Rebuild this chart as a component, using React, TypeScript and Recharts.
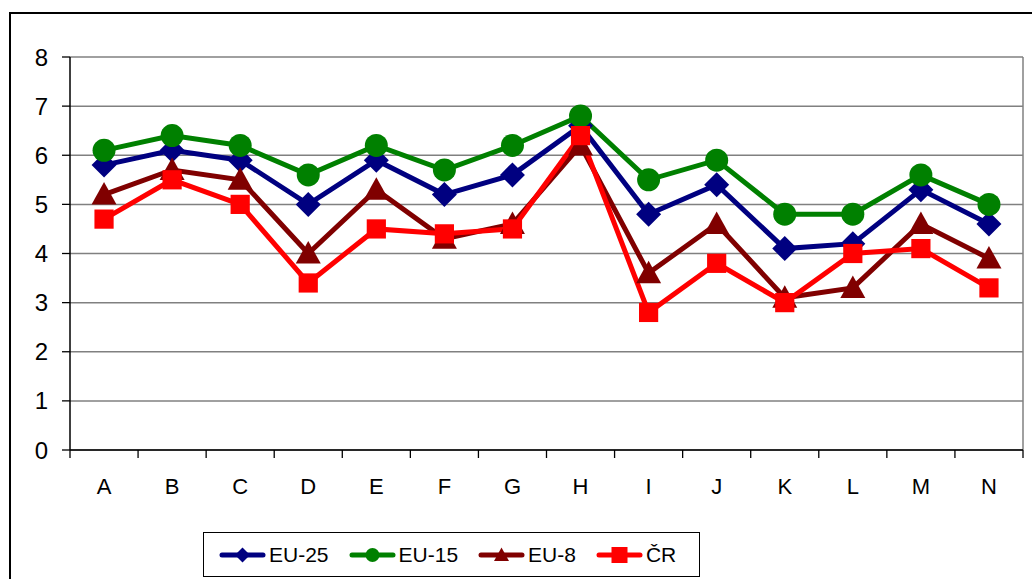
import React from "react";
import { LineChart, Line, XAxis, YAxis, CartesianGrid, Legend } from "recharts";

const categories = ["A", "B", "C", "D", "E", "F", "G", "H", "I", "J", "K", "L", "M", "N"];
const eu25 = [5.8, 6.1, 5.9, 5.0, 5.9, 5.2, 5.6, 6.6, 4.8, 5.4, 4.1, 4.2, 5.3, 4.6];
const eu15 = [6.1, 6.4, 6.2, 5.6, 6.2, 5.7, 6.2, 6.8, 5.5, 5.9, 4.8, 4.8, 5.6, 5.0];
const eu8 = [5.2, 5.7, 5.5, 4.0, 5.3, 4.3, 4.6, 6.2, 3.6, 4.6, 3.1, 3.3, 4.6, 3.9];
const cr = [4.7, 5.5, 5.0, 3.4, 4.5, 4.4, 4.5, 6.4, 2.8, 3.8, 3.0, 4.0, 4.1, 3.3];
const yTicks = [0, 1, 2, 3, 4, 5, 6, 7, 8];

const data = categories.map((c, i) => ({
  cat: c,
  eu25: eu25[i],
  eu15: eu15[i],
  eu8: eu8[i],
  cr: cr[i],
}));

type Shape = "diamond" | "circle" | "triangle" | "square";

const series: Array<{ key: string; label: string; color: string; shape: Shape }> = [
  { key: "eu25", label: "EU-25", color: "#000080", shape: "diamond" },
  { key: "eu15", label: "EU-15", color: "#008000", shape: "circle" },
  { key: "eu8", label: "EU-8", color: "#800000", shape: "triangle" },
  { key: "cr", label: "ČR", color: "#FF0000", shape: "square" },
];

const FONT = "'Liberation Sans', Arial, sans-serif";
const W = 1032;
const H = 579;
const PLOT_BOTTOM = 450;

function marker(shape: Shape, cx: number, cy: number, color: string, s: number, key?: string | number) {
  if (shape === "diamond") {
    return <polygon key={key} points={`${cx},${cy - s} ${cx + s},${cy} ${cx},${cy + s} ${cx - s},${cy}`} fill={color} />;
  }
  if (shape === "circle") {
    return <circle key={key} cx={cx} cy={cy} r={s * 0.92} fill={color} />;
  }
  if (shape === "triangle") {
    return (
      <polygon key={key} points={`${cx},${cy - s} ${cx + s},${cy + s * 0.8} ${cx - s},${cy + s * 0.8}`} fill={color} />
    );
  }
  return <rect key={key} x={cx - s * 0.8} y={cy - s * 0.8} width={s * 1.6} height={s * 1.6} fill={color} />;
}

// eslint-disable-next-line @typescript-eslint/no-explicit-any
const XTick = (props: any) => {
  const { x, index, visibleTicksCount } = props;
  const band = (W - 70 - 9) / categories.length;
  const last = index === (visibleTicksCount ?? categories.length) - 1;
  return (
    <g>
      <line x1={x - band / 2} x2={x - band / 2} y1={PLOT_BOTTOM} y2={PLOT_BOTTOM + 8} stroke="#000" strokeWidth={1.3} />
      {last && (
        <line x1={x + band / 2} x2={x + band / 2} y1={PLOT_BOTTOM} y2={PLOT_BOTTOM + 8} stroke="#000" strokeWidth={1.3} />
      )}
      <text x={x} y={PLOT_BOTTOM + 44} textAnchor="middle" fill="#000" fontSize={22} fontFamily={FONT}>
        {props.payload.value}
      </text>
    </g>
  );
};

const LegendBox = () => (
  <div
    style={{
      boxSizing: "border-box",
      width: 497,
      height: 45,
      border: "1px solid #000",
      background: "#fff",
      display: "flex",
      alignItems: "center",
      paddingLeft: 15,
      fontFamily: FONT,
      fontSize: 21,
      color: "#000",
    }}
  >
    {series.map((s) => (
      <div key={s.key} style={{ display: "flex", alignItems: "center", marginRight: 20 }}>
        <svg width={47} height={22} style={{ display: "block" }}>
          <line x1={3} x2={44} y1={11} y2={11} stroke={s.color} strokeWidth={5} strokeLinecap="round" />
          {marker(s.shape, 23.5, 11, s.color, s.shape === "square" ? 10 : 7.5)}
        </svg>
        <span style={{ marginLeft: 3 }}>{s.label}</span>
      </div>
    ))}
  </div>
);

export default function App() {
  return (
    <div style={{ position: "relative", width: W, height: H, overflow: "hidden", background: "#fff" }}>
      <style>{"body{margin:0}"}</style>
      <div
        style={{
          position: "absolute",
          left: 9,
          top: 12,
          width: W,
          height: H,
          borderLeft: "2px solid #000",
          borderTop: "2px solid #000",
        }}
      />
      <div style={{ position: "absolute", left: 0, top: 0 }}>
        <LineChart width={W} height={H} data={data} margin={{ top: 57, right: 9, left: 0, bottom: 0 }}>
          <CartesianGrid
            stroke="#808080"
            strokeWidth={1.5}
            verticalCoordinatesGenerator={({ offset }: { offset: { left: number; width: number } }) => [
              offset.left + offset.width,
            ]}
          />
          <XAxis
            dataKey="cat"
            scale="band"
            height={129}
            axisLine={{ stroke: "#000", strokeWidth: 1.5 }}
            tickLine={false}
            tick={<XTick />}
            interval={0}
          />
          <YAxis
            domain={[0, 8]}
            ticks={yTicks}
            width={70}
            axisLine={{ stroke: "#000", strokeWidth: 1.5 }}
            tickLine={{ stroke: "#000", strokeWidth: 1.3 }}
            tickSize={8}
            tickMargin={14}
            tick={{ fill: "#000", fontSize: 24, fontFamily: FONT }}
          />
          <Legend
            layout="horizontal"
            align="center"
            verticalAlign="middle"
            wrapperStyle={{ left: 203, top: 532, width: 497, height: 45 }}
            content={() => <LegendBox />}
          />
          {series.map((s) => (
            <Line
              key={s.key}
              type="linear"
              dataKey={s.key}
              name={s.label}
              stroke={s.color}
              strokeWidth={5}
              isAnimationActive={false}
              activeDot={false}
              // eslint-disable-next-line @typescript-eslint/no-explicit-any
              dot={(p: any) => marker(s.shape, p.cx, p.cy, s.color, s.shape === "square" ? 12 : 12.5, `${s.key}-${p.index}`)}
            />
          ))}
        </LineChart>
      </div>
    </div>
  );
}
